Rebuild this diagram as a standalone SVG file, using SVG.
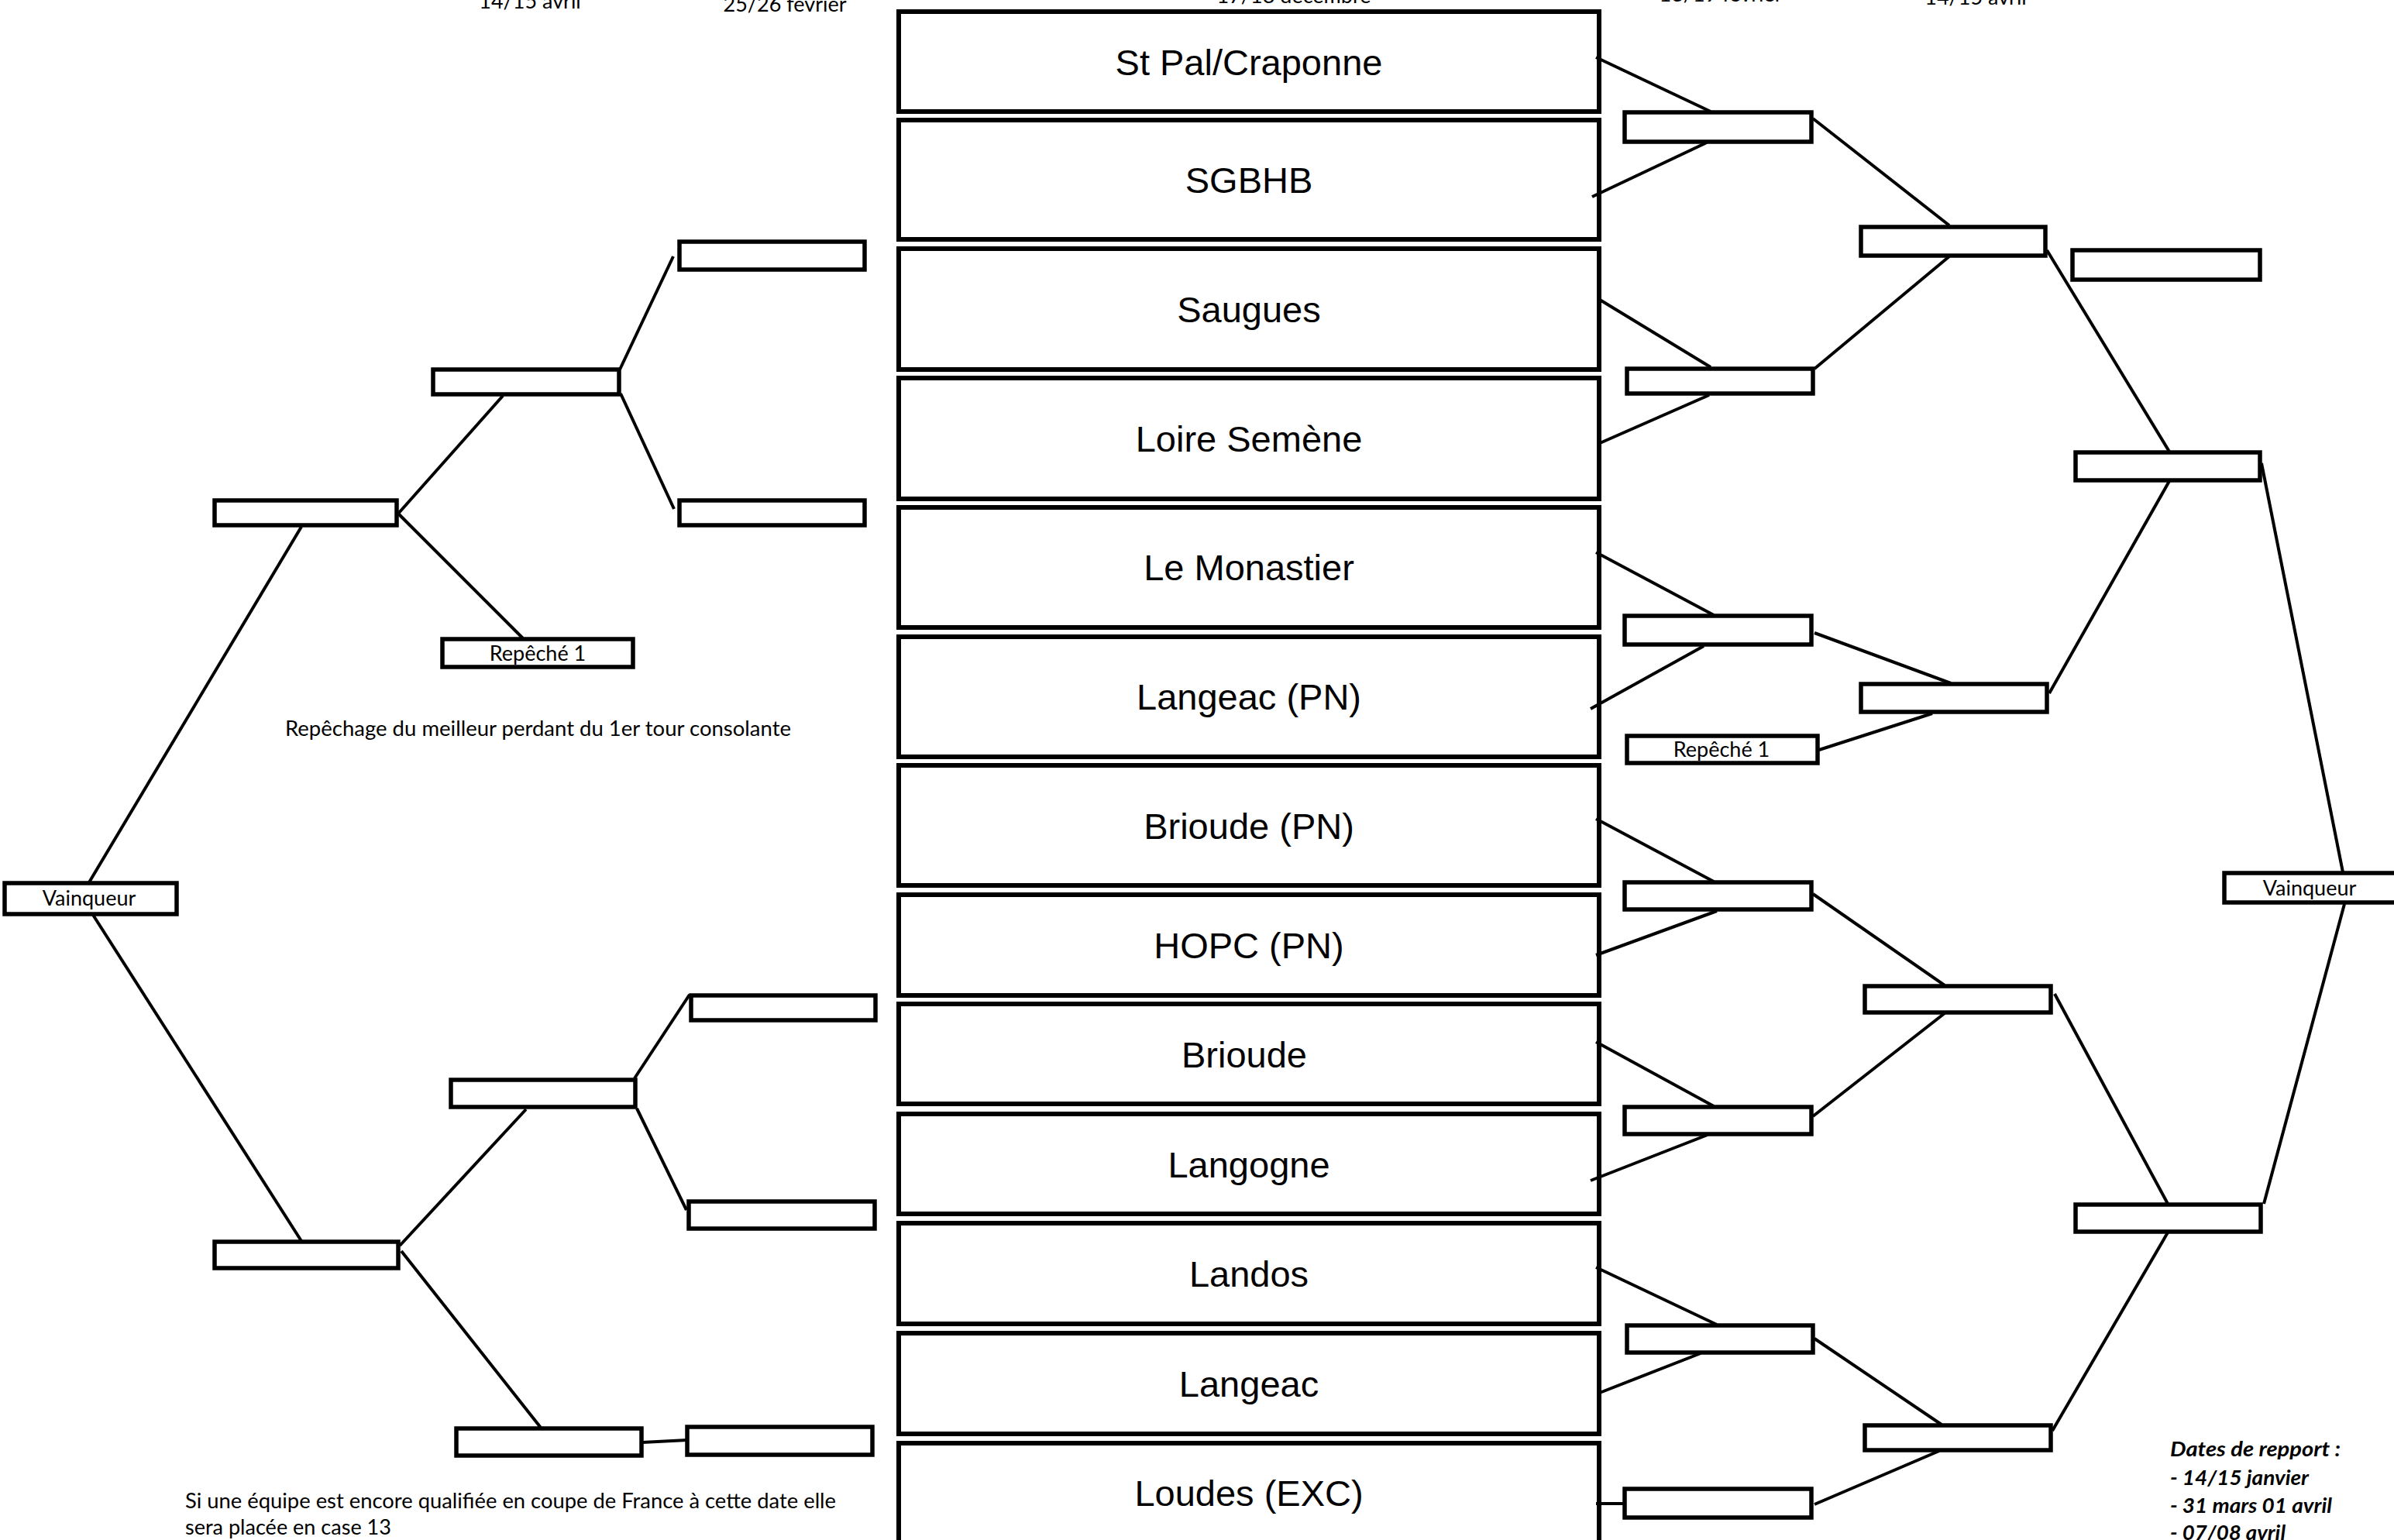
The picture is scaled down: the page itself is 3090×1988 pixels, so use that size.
<svg xmlns="http://www.w3.org/2000/svg" width="3090" height="1988" viewBox="0 0 3090 1988">
<style>
.team rect{fill:#fff;stroke:#000;stroke-width:6}
.team text{font-family:"Liberation Sans",Arial,sans-serif;font-size:47px;text-anchor:middle;fill:#000}
.slot{fill:#fff;stroke:#000;stroke-width:5.5}
.lbl{font-family:Lato,"Open Sans",sans-serif;font-size:27px;fill:#000;text-anchor:middle}
.note{font-family:Lato,"Open Sans",sans-serif;font-size:27px;fill:#000}
.date{font-family:Lato,"Open Sans",sans-serif;font-size:27px;fill:#000;text-anchor:middle}
.rep{font-family:Lato,"Open Sans",sans-serif;font-size:27px;font-weight:bold;font-style:italic;fill:#000}
#connectors line{stroke:#000;stroke-width:4;fill:none}
</style>
<rect width="3090" height="1988" fill="#fff"/>
<g id="dates">
<text class="date" x="684" y="11">14/15 avril</text>
<text class="date" x="1013" y="15">25/26 février</text>
<text class="date" x="1670" y="4">17/18 décembre</text>
<text class="date" x="2221" y="2">18/19 février</text>
<text class="date" x="2550" y="6">14/15 avril</text>
</g>
<g id="teams">
<g id="team1" class="team"><rect x="1160" y="15" width="904" height="129"/><text x="1612" y="97">St Pal/Craponne</text></g>
<g id="team2" class="team"><rect x="1160" y="155" width="904" height="154"/><text x="1612" y="249">SGBHB</text></g>
<g id="team3" class="team"><rect x="1160" y="321" width="904" height="156"/><text x="1612" y="416">Saugues</text></g>
<g id="team4" class="team"><rect x="1160" y="488" width="904" height="156"/><text x="1612" y="583">Loire Semène</text></g>
<g id="team5" class="team"><rect x="1160" y="655" width="904" height="155"/><text x="1612" y="749">Le Monastier</text></g>
<g id="team6" class="team"><rect x="1160" y="822" width="904" height="155"/><text x="1612" y="916">Langeac (PN)</text></g>
<g id="team7" class="team"><rect x="1160" y="988" width="904" height="155"/><text x="1612" y="1083">Brioude (PN)</text></g>
<g id="team8" class="team"><rect x="1160" y="1155" width="904" height="130"/><text x="1612" y="1237">HOPC (PN)</text></g>
<g id="team9" class="team"><rect x="1160" y="1296" width="904" height="129"/><text x="1606" y="1378">Brioude</text></g>
<g id="team10" class="team"><rect x="1160" y="1438" width="904" height="129"/><text x="1612" y="1520">Langogne</text></g>
<g id="team11" class="team"><rect x="1160" y="1579" width="904" height="130"/><text x="1612" y="1661">Landos</text></g>
<g id="team12" class="team"><rect x="1160" y="1721" width="904" height="130"/><text x="1612" y="1803">Langeac</text></g>
<g id="team13" class="team"><rect x="1160" y="1863" width="904" height="160"/><text x="1612" y="1944">Loudes (EXC)</text></g>
</g>
<g id="left-bracket">
<g id="lA1"><rect class="slot" x="877" y="312" width="239" height="36"/></g>
<g id="lA2"><rect class="slot" x="877" y="646" width="239" height="32"/></g>
<g id="lB1"><rect class="slot" x="559" y="477" width="240" height="32"/></g>
<g id="lC1"><rect class="slot" x="277" y="646" width="235" height="32"/></g>
<g id="lRep"><rect class="slot" x="571" y="825" width="246" height="36"/><text class="lbl" x="694" y="853">Repêché 1</text></g>
<g id="lVainq"><rect class="slot" x="6" y="1140" width="222" height="40"/><text class="lbl" x="115" y="1169">Vainqueur</text></g>
<g id="lD1"><rect class="slot" x="892" y="1285" width="238" height="32"/></g>
<g id="lD2"><rect class="slot" x="889" y="1551" width="240" height="35"/></g>
<g id="lE1"><rect class="slot" x="582" y="1394" width="238" height="35"/></g>
<g id="lF1"><rect class="slot" x="277" y="1603" width="237" height="34"/></g>
<g id="lE2"><rect class="slot" x="589" y="1844" width="239" height="35"/></g>
<g id="lD3"><rect class="slot" x="887" y="1842" width="239" height="36"/></g>
</g>
<g id="right-bracket">
<g id="rR1a"><rect class="slot" x="2097" y="145" width="241" height="38"/></g>
<g id="rR2a"><rect class="slot" x="2402" y="293" width="238" height="37"/></g>
<g id="rR1b"><rect class="slot" x="2100" y="476" width="240" height="32"/></g>
<g id="rR3top"><rect class="slot" x="2675" y="323" width="242" height="38"/></g>
<g id="rR3a"><rect class="slot" x="2679" y="584" width="238" height="36"/></g>
<g id="rR1c"><rect class="slot" x="2097" y="795" width="241" height="37"/></g>
<g id="rR2b"><rect class="slot" x="2402" y="883" width="240" height="36"/></g>
<g id="rRep"><rect class="slot" x="2100" y="950" width="246" height="35"/><text class="lbl" x="2222" y="977">Repêché 1</text></g>
<g id="rVainq"><rect class="slot" x="2871" y="1127" width="230" height="38"/><text class="lbl" x="2981" y="1156">Vainqueur</text></g>
<g id="rR1d"><rect class="slot" x="2097" y="1139" width="241" height="35"/></g>
<g id="rR2c"><rect class="slot" x="2407" y="1273" width="240" height="34"/></g>
<g id="rR1e"><rect class="slot" x="2097" y="1429" width="241" height="35"/></g>
<g id="rR3b"><rect class="slot" x="2679" y="1555" width="239" height="35"/></g>
<g id="rR1f"><rect class="slot" x="2100" y="1711" width="240" height="35"/></g>
<g id="rR2d"><rect class="slot" x="2407" y="1840" width="240" height="32"/></g>
<g id="rR1g"><rect class="slot" x="2097" y="1922" width="241" height="37"/></g>
</g>
<g id="connectors">
<line x1="869" y1="331" x2="800" y2="477"/>
<line x1="801" y1="508" x2="870" y2="657"/>
<line x1="649" y1="511" x2="514" y2="663"/>
<line x1="514" y1="663" x2="675" y2="824"/>
<line x1="389" y1="680" x2="115" y2="1139"/>
<line x1="120" y1="1181" x2="389" y2="1602"/>
<line x1="516" y1="1608" x2="679" y2="1432"/>
<line x1="518" y1="1615" x2="698" y2="1843"/>
<line x1="819" y1="1392" x2="890" y2="1284"/>
<line x1="822" y1="1431" x2="886" y2="1562"/>
<line x1="829" y1="1862" x2="887" y2="1859"/>
<line x1="2060" y1="74" x2="2208" y2="144"/>
<line x1="2055" y1="254" x2="2203" y2="184"/>
<line x1="2340" y1="153" x2="2516" y2="291"/>
<line x1="2065" y1="387" x2="2208" y2="474"/>
<line x1="2065" y1="572" x2="2206" y2="510"/>
<line x1="2342" y1="476" x2="2516" y2="331"/>
<line x1="2642" y1="323" x2="2800" y2="583"/>
<line x1="2060" y1="713" x2="2212" y2="794"/>
<line x1="2053" y1="915" x2="2199" y2="834"/>
<line x1="2342" y1="817" x2="2518" y2="882"/>
<line x1="2348" y1="968" x2="2494" y2="921"/>
<line x1="2645" y1="895" x2="2800" y2="621"/>
<line x1="2919" y1="598" x2="3024" y2="1126"/>
<line x1="2060" y1="1057" x2="2212" y2="1138"/>
<line x1="2060" y1="1233" x2="2216" y2="1176"/>
<line x1="2340" y1="1154" x2="2510" y2="1272"/>
<line x1="2060" y1="1345" x2="2212" y2="1428"/>
<line x1="2053" y1="1524" x2="2204" y2="1465"/>
<line x1="2340" y1="1441" x2="2510" y2="1308"/>
<line x1="2652" y1="1283" x2="2798" y2="1554"/>
<line x1="3026" y1="1167" x2="2922" y2="1554"/>
<line x1="2060" y1="1636" x2="2216" y2="1710"/>
<line x1="2062" y1="1799" x2="2195" y2="1747"/>
<line x1="2342" y1="1728" x2="2506" y2="1839"/>
<line x1="2060" y1="1941" x2="2097" y2="1941"/>
<line x1="2342" y1="1942" x2="2503" y2="1873"/>
<line x1="2649" y1="1847" x2="2798" y2="1591"/>
</g>
<g id="notes">
<text class="note" x="368" y="950" textLength="653" lengthAdjust="spacingAndGlyphs">Repêchage du meilleur perdant du 1er tour consolante</text>
<text class="note" x="239" y="1947" textLength="840" lengthAdjust="spacingAndGlyphs">Si une équipe est encore qualifiée en coupe de France à cette date elle</text>
<text class="note" x="239" y="1981" textLength="266" lengthAdjust="spacingAndGlyphs">sera placée en case 13</text>
<text class="rep" x="2801" y="1880" textLength="220" lengthAdjust="spacingAndGlyphs">Dates de repport :</text>
<text class="rep" x="2801" y="1917" textLength="179" lengthAdjust="spacingAndGlyphs">- 14/15 janvier</text>
<text class="rep" x="2801" y="1953" textLength="209" lengthAdjust="spacingAndGlyphs">- 31 mars 01 avril</text>
<text class="rep" x="2801" y="1988" textLength="149" lengthAdjust="spacingAndGlyphs">- 07/08 avril</text>
</g>
</svg>
